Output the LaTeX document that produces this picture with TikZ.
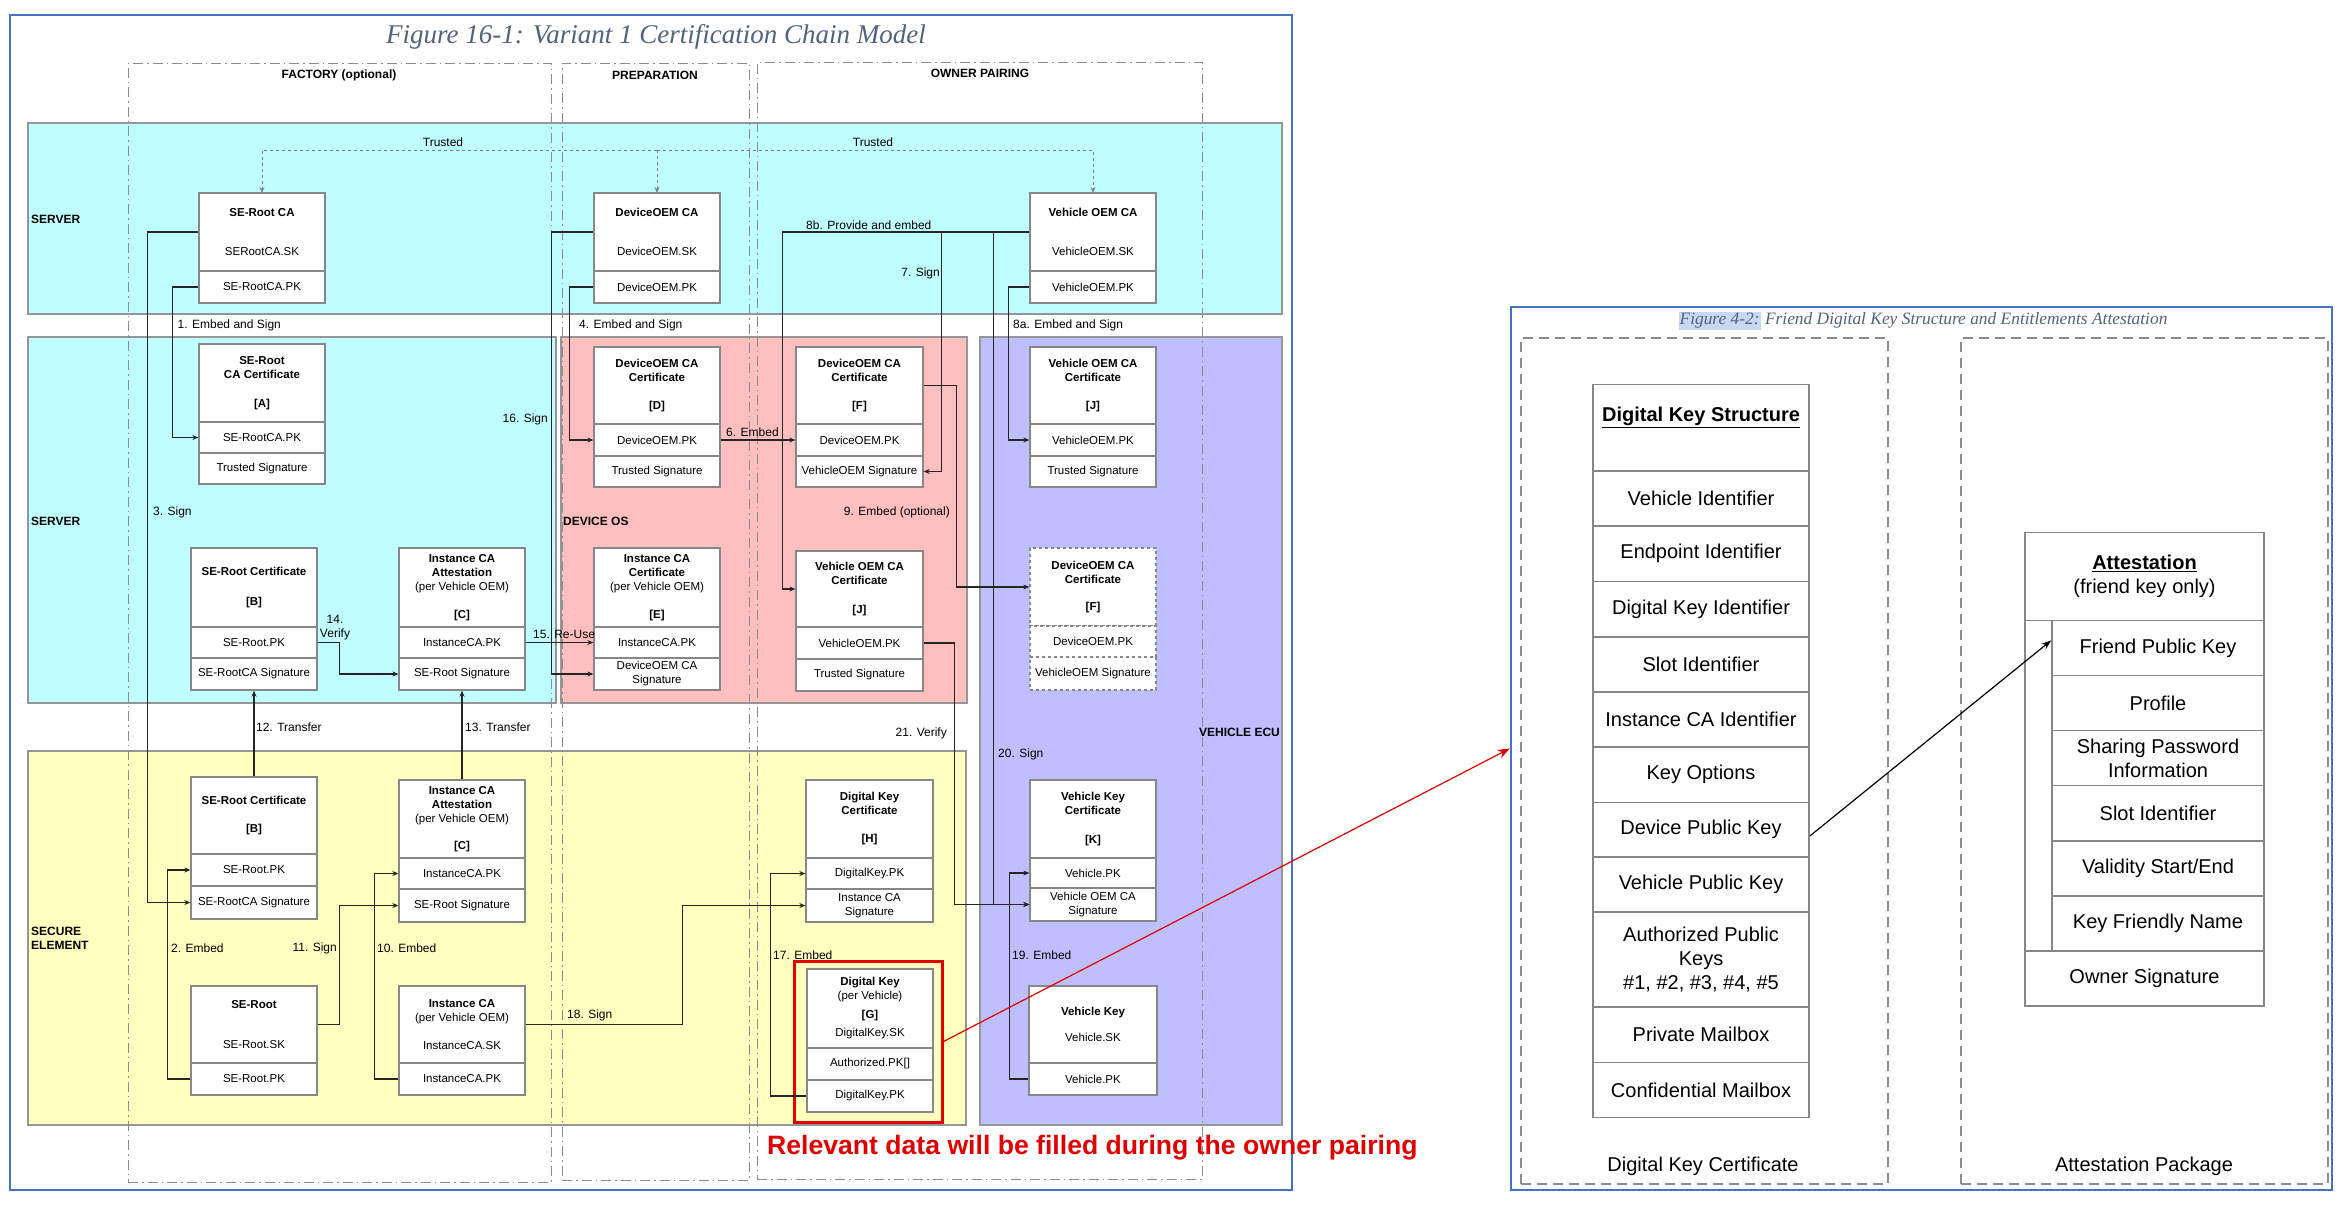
\documentclass[tikz,border=0pt]{standalone}
\usepackage{fontspec}
\setmainfont{Liberation Sans}
\newfontfamily\serifit{Liberation Serif}
\usetikzlibrary{arrows.meta,calc}
\definecolor{lcyan}{RGB}{191,255,255}
\definecolor{lpink}{RGB}{255,191,191}
\definecolor{llav}{RGB}{191,191,255}
\definecolor{lyel}{RGB}{255,255,192}
\definecolor{bordgray}{RGB}{150,150,150}
\definecolor{boxgray}{RGB}{135,135,135}
\definecolor{figblue}{RGB}{68,114,196}
\definecolor{slate}{RGB}{84,98,126}
\definecolor{hlblue}{RGB}{198,217,240}
\definecolor{redc}{RGB}{225,0,0}
\newcommand\cel[7]{\node[#1, minimum width={#4-#3}, minimum height={#6-#5}] (#2) at ({(#3+#4)/2},{(#5+#6)/2}) {#7};}
\begin{document}
\begin{tikzpicture}[x=1pt,y=-1pt,
  lane/.style={draw=bordgray, line width=1.5pt, inner sep=0pt},
  colbox/.style={draw=black!45, line width=1pt, inner sep=0pt, dash pattern=on 10pt off 4pt on 1.5pt off 4pt},
  frame/.style={draw=figblue, line width=2.5pt, inner sep=0pt},
  cell/.style={draw=boxgray, fill=white, line width=1.3pt, inner sep=0pt, align=center, font=\fontsize{11.5}{14}\selectfont},
  dcell/.style={cell, dashed},
  lbl/.style={font=\fontsize{12}{14}\selectfont, inner sep=0pt},
  blbl/.style={font=\fontsize{12}{14}\selectfont\bfseries, inner sep=0pt},
  conn/.style={draw=black!85, line width=1.2pt, -{Stealth[length=6pt,width=5pt]}},
  trust/.style={draw=black!50, line width=1pt, dashed, -{Stealth[length=6pt,width=5pt]}},
  rcell/.style={draw=boxgray, fill=white, line width=1.5pt, inner sep=0pt, align=center, font=\fontsize{20}{24}\selectfont},
  rdash/.style={draw=black!45, line width=1.5pt, inner sep=0pt, dash pattern=on 10pt off 6pt},
  rlbl/.style={font=\fontsize{20}{24}\selectfont, inner sep=0pt},
]
\fill[white] (0,0) rectangle (2350,1216);
\useasboundingbox (0,0) rectangle (2350,1216);

% frames
\cel{frame}{lpanel}{10}{1292}{15}{1190}{}
\cel{frame}{rpanel}{1511}{2332}{307}{1190}{}

% lanes
\cel{lane,fill=lcyan}{laneA}{28}{1282}{123}{314}{}
\cel{lane,fill=lcyan}{laneB}{28}{556}{337}{703}{}
\cel{lane,fill=lpink}{laneC}{561}{967}{337}{703}{}
\cel{lane,fill=llav}{laneD}{980}{1282}{337}{1125}{}
\cel{lane,fill=lyel}{laneE}{28}{966}{751}{1125}{}

% columns
\cel{colbox}{colF}{128}{551}{63}{1182}{}
\cel{colbox}{colP}{562}{749}{63}{1180}{}
\cel{colbox}{colO}{757}{1202}{62}{1179}{}

% titles
\node[font=\serifit\itshape\fontsize{27}{30}\selectfont, text=slate, inner sep=0pt] (t1) at (656,37) {Figure 16-1: Variant 1 Certification Chain Model};
\node[font=\serifit\itshape\fontsize{17.4}{20}\selectfont, text=slate, inner sep=0pt] (t2) at (1923,321) {\setlength{\fboxsep}{1pt}\colorbox{hlblue}{Figure 4-2:} Friend Digital Key Structure and Entitlements Attestation};

\node[blbl] (hF) at (339,75) {FACTORY (optional)};
\node[blbl] (hP) at (655,75) {PREPARATION};
\node[blbl] (hO) at (980,73) {OWNER PAIRING};

\node[blbl, anchor=west] (nS1) at (31,219) {SERVER};
\node[blbl, anchor=west] (nS2) at (31,521) {SERVER};
\node[blbl, anchor=west] (nD) at (563,521) {DEVICE OS};
\node[blbl, anchor=west] (nV) at (1199,732) {VEHICLE ECU};
\node[blbl, anchor=west, align=left] (nSE) at (31,938) {SECURE\\ELEMENT};

% trusted
\coordinate (trc) at (657,150);
\draw[trust] (trc) -| (262,193);
\draw[trust] (trc) -- (657,193);
\draw[trust] (trc) -| (1093,193);
\node[lbl] (tr1) at (443,142) {Trusted};
\node[lbl] (tr2) at (873,142) {Trusted};

% boxes top server
\cel{cell}{srca}{199}{325}{193}{271}{\textbf{SE-Root CA}\\[25.5pt]SERootCA.SK}
\cel{cell}{srca-pk}{199}{325}{271}{303}{SE-RootCA.PK}
\cel{cell}{doca}{594}{720}{193}{271}{\textbf{DeviceOEM CA}\\[25.5pt]DeviceOEM.SK}
\cel{cell}{doca-pk}{594}{720}{271}{303}{DeviceOEM.PK}
\cel{cell}{voca}{1030}{1156}{193}{271}{\textbf{Vehicle OEM CA}\\[25.5pt]VehicleOEM.SK}
\cel{cell}{voca-pk}{1030}{1156}{271}{303}{VehicleOEM.PK}

% row 2
\cel{cell}{certA}{199}{325}{344}{422}{\textbf{SE-Root}\\\textbf{CA Certificate}\\[14.5pt]\textbf{[A]}}
\cel{cell}{certA-pk}{199}{325}{422}{453}{SE-RootCA.PK}
\cel{cell}{certA-sig}{199}{325}{453}{484}{Trusted Signature}
\cel{cell}{certD}{594}{720}{347}{424}{\textbf{DeviceOEM CA}\\\textbf{Certificate}\\[14pt]\textbf{[D]}}
\cel{cell}{certD-pk}{594}{720}{424}{456}{DeviceOEM.PK}
\cel{cell}{certD-sig}{594}{720}{456}{487}{Trusted Signature}
\cel{cell}{certF}{796}{923}{347}{424}{\textbf{DeviceOEM CA}\\\textbf{Certificate}\\[14pt]\textbf{[F]}}
\cel{cell}{certF-pk}{796}{923}{424}{456}{DeviceOEM.PK}
\cel{cell}{certF-sig}{796}{923}{456}{487}{VehicleOEM Signature}
\cel{cell}{certJa}{1030}{1156}{347}{424}{\textbf{Vehicle OEM CA}\\\textbf{Certificate}\\[14pt]\textbf{[J]}}
\cel{cell}{certJa-pk}{1030}{1156}{424}{456}{VehicleOEM.PK}
\cel{cell}{certJa-sig}{1030}{1156}{456}{487}{Trusted Signature}

% row 3
\cel{cell}{certBa}{191}{317}{548}{627}{\textbf{SE-Root Certificate}\\[15.5pt]\textbf{[B]}}
\cel{cell}{certBa-pk}{191}{317}{627}{658}{SE-Root.PK}
\cel{cell}{certBa-sig}{191}{317}{658}{690}{SE-RootCA Signature}
\cel{cell}{certCa}{399}{525}{548}{627}{\textbf{Instance CA}\\\textbf{Attestation}\\(per Vehicle OEM)\\[13.5pt]\textbf{[C]}}
\cel{cell}{certCa-pk}{399}{525}{627}{658}{InstanceCA.PK}
\cel{cell}{certCa-sig}{399}{525}{658}{690}{SE-Root Signature}
\cel{cell}{certE}{594}{720}{548}{627}{\textbf{Instance CA}\\\textbf{Certificate}\\(per Vehicle OEM)\\[13.5pt]\textbf{[E]}}
\cel{cell}{certE-pk}{594}{720}{627}{658}{InstanceCA.PK}
\cel{cell}{certE-sig}{594}{720}{658}{690}{DeviceOEM CA\\Signature}
\cel{cell}{certJb}{796}{923}{551}{627}{\textbf{Vehicle OEM CA}\\\textbf{Certificate}\\[14.5pt]\textbf{[J]}}
\cel{cell}{certJb-pk}{796}{923}{627}{659}{VehicleOEM.PK}
\cel{cell}{certJb-sig}{796}{923}{659}{691}{Trusted Signature}
\cel{dcell}{certFb}{1030}{1156}{548}{626}{\textbf{DeviceOEM CA}\\\textbf{Certificate}\\[13pt]\textbf{[F]}}
\cel{dcell}{certFb-pk}{1030}{1156}{626}{657}{DeviceOEM.PK}
\cel{dcell}{certFb-sig}{1030}{1156}{657}{690}{VehicleOEM Signature}

% row 4
\cel{cell}{certBb}{191}{317}{777}{854}{\textbf{SE-Root Certificate}\\[14.5pt]\textbf{[B]}}
\cel{cell}{certBb-pk}{191}{317}{854}{886}{SE-Root.PK}
\cel{cell}{certBb-sig}{191}{317}{886}{919}{SE-RootCA Signature}
\cel{cell}{certCb}{399}{525}{780}{858}{\textbf{Instance CA}\\\textbf{Attestation}\\(per Vehicle OEM)\\[13.5pt]\textbf{[C]}}
\cel{cell}{certCb-pk}{399}{525}{858}{889}{InstanceCA.PK}
\cel{cell}{certCb-sig}{399}{525}{889}{922}{SE-Root Signature}
\cel{cell}{certH}{806}{933}{780}{858}{\textbf{Digital Key}\\\textbf{Certificate}\\[14pt]\textbf{[H]}}
\cel{cell}{certH-pk}{806}{933}{858}{889}{DigitalKey.PK}
\cel{cell}{certH-sig}{806}{933}{889}{922}{Instance CA\\Signature}
\cel{cell}{certK}{1030}{1156}{780}{858}{\textbf{Vehicle Key}\\\textbf{Certificate}\\[14.5pt]\textbf{[K]}}
\cel{cell}{certK-pk}{1030}{1156}{858}{888}{Vehicle.PK}
\cel{cell}{certK-sig}{1030}{1156}{888}{921}{Vehicle OEM CA\\Signature}

% row 5
\cel{cell}{seroot}{191}{317}{986}{1063}{\textbf{SE-Root}\\[25.5pt]SE-Root.SK}
\cel{cell}{seroot-pk}{191}{317}{1063}{1095}{SE-Root.PK}
\cel{cell}{instca}{399}{525}{986}{1063}{\textbf{Instance CA}\\(per Vehicle OEM)\\[13.5pt]InstanceCA.SK}
\cel{cell}{instca-pk}{399}{525}{1063}{1095}{InstanceCA.PK}
\cel{cell}{dkg}{807}{933}{969}{1048}{\textbf{Digital Key}\\(per Vehicle)\\[4.5pt]\textbf{[G]}\\[4.5pt]DigitalKey.SK}
\cel{cell}{dkg-auth}{807}{933}{1048}{1080}{Authorized.PK[]}
\cel{cell}{dkg-pk}{807}{933}{1080}{1112}{DigitalKey.PK}
\cel{cell}{vkey}{1029}{1157}{986}{1063}{\textbf{Vehicle Key}\\[12.5pt]Vehicle.SK}
\cel{cell}{vkey-pk}{1029}{1157}{1063}{1095}{Vehicle.PK}

\node[draw=redc, line width=3pt, inner sep=0pt, minimum width=148, minimum height=161] (redbox) at (868,1041.5) {};

% connectors
\draw[conn] (srca-pk.west) -- ++(-25.5,0) |- (certA-pk.west);
\draw[conn] (srca.west) -- ++(-51,0) |- (certBb-sig.west);
\draw[conn] (doca.west) -- ++(-42,0) |- (certE-sig.west);
\draw[conn] (doca-pk.west) -- ++(-24,0) |- (certD-pk.west);
\draw[conn] (certD-pk.east) -- (certF-pk.west);
\draw[conn] (voca.west) -- ++(-247,0) |- (certJb.west);
\draw[conn] (voca.west) -- ++(-88,0) |- (certF-sig.east);
\draw[conn] (voca.west) -- ++(-36,0) |- (certK-sig.west);
\draw[conn] (voca-pk.west) -- ++(-21,0) |- (certJa-pk.west);
\draw[conn] (certF.east) -- ++(33,0) |- (certFb.west);
\draw[conn] (certBa-pk.east) -- ++(22,0) |- (certCa-sig.west);
\draw[conn] (certCa-pk.east) -- (certE-pk.west);
\draw[conn] (certBb.north) -- (certBa-sig.south);
\draw[conn] (certCb.north) -- (certCa-sig.south);
\draw[conn] (seroot-pk.west) -- ++(-23,0) |- (certBb-pk.west);
\draw[conn] (seroot.east) -- ++(22,0) |- (certCb-sig.west);
\draw[conn] (instca-pk.west) -- ++(-24,0) |- (certCb-pk.west);
\draw[conn] (instca.east) -- ++(157,0) |- (certH-sig.west);
\draw[conn] (dkg-pk.west) -- ++(-36,0) |- (certH-pk.west);
\draw[conn] (vkey-pk.west) -- ++(-19,0) |- (certK-pk.west);
\draw[conn] (certJb-pk.east) -- ++(31,0) |- (certK-sig.west);

% connector labels
\node[lbl, anchor=west] (l1) at (177.5,325) {1. Embed and Sign};
\node[lbl, anchor=west] (l3) at (153,512) {3. Sign};
\node[lbl, anchor=east] (l16) at (548,419) {16. Sign};
\node[lbl, anchor=west] (l4) at (579,325) {4. Embed and Sign};
\node[lbl, anchor=west] (l6) at (726,432) {6. Embed};
\node[lbl, anchor=west] (l8b) at (806,225) {8b. Provide and embed};
\node[lbl, anchor=east] (l7) at (940,273) {7. Sign};
\node[lbl, anchor=west] (l20) at (998,754) {20. Sign};
\node[lbl, anchor=west] (l8a) at (1013,325) {8a. Embed and Sign};
\node[lbl, anchor=east] (l9) at (950,512) {9. Embed (optional)};
\node[lbl, align=center] (l14) at (335,628) {14.\\Verify};
\node[lbl, anchor=west] (l15) at (533,634) {15. Re-Use};
\node[lbl, anchor=west] (l12) at (256,727) {12. Transfer};
\node[lbl, anchor=west] (l13) at (465,727) {13. Transfer};
\node[lbl, anchor=west] (l2) at (171,948) {2. Embed};
\node[lbl, anchor=east] (l11) at (337,948) {11. Sign};
\node[lbl, anchor=west] (l10) at (377,948) {10. Embed};
\node[lbl, anchor=west] (l18) at (567,1015) {18. Sign};
\node[lbl, anchor=west] (l17) at (773,955) {17. Embed};
\node[lbl, anchor=west] (l19) at (1012,955) {19. Embed};
\node[lbl, anchor=east] (l21) at (947,733) {21. Verify};

\node[font=\bfseries\fontsize{26.6}{30}\selectfont, text=redc, anchor=west, inner sep=0pt] (redtxt) at (767,1148) {Relevant data will be filled during the owner pairing};

% right panel
\cel{rdash}{rdA}{1521}{1888}{338}{1184}{}
\cel{rdash}{rdB}{1961}{2328}{338}{1184}{}
\node[rlbl] (rdAl) at (1703,1166) {Digital Key Certificate};
\node[rlbl] (rdBl) at (2144,1166) {Attestation Package};

\cel{rcell}{dks}{1593}{1809}{384.4}{471.1}{}
\node[font=\fontsize{20}{24}\selectfont\bfseries, inner sep=0pt] (dkst) at (1701,417) {\underline{Digital Key Structure}};
\cel{rcell}{dk1}{1593}{1809}{471.1}{526.2}{Vehicle Identifier}
\cel{rcell}{dk2}{1593}{1809}{526.2}{581.3}{Endpoint Identifier}
\cel{rcell}{dk3}{1593}{1809}{581.3}{637.0}{Digital Key Identifier}
\cel{rcell}{dk4}{1593}{1809}{637.0}{692.1}{Slot Identifier}
\cel{rcell}{dk5}{1593}{1809}{692.1}{747.2}{Instance CA Identifier}
\cel{rcell}{dk6}{1593}{1809}{747.2}{802.3}{Key Options}
\cel{rcell}{devpk}{1593}{1809}{802.3}{856.8}{Device Public Key}
\cel{rcell}{dk8}{1593}{1809}{856.8}{911.9}{Vehicle Public Key}
\cel{rcell}{dk9}{1593}{1809}{911.9}{1007.2}{Authorized Public\\Keys\\\#1, \#2, \#3, \#4, \#5}
\cel{rcell}{dk10}{1593}{1809}{1007.2}{1062.4}{Private Mailbox}
\cel{rcell}{dk11}{1593}{1809}{1062.4}{1117.4}{Confidential Mailbox}

\cel{rcell}{att}{2025}{2264}{532.5}{620.3}{\textbf{\underline{Attestation}}\\(friend key only)}
\cel{rcell}{attstrip}{2025}{2052}{620.3}{951.0}{}
\cel{rcell}{fpk}{2052}{2264}{620.3}{675.4}{Friend Public Key}
\cel{rcell}{at2}{2052}{2264}{675.4}{730.5}{Profile}
\cel{rcell}{at3}{2052}{2264}{730.5}{785.6}{Sharing Password\\Information}
\cel{rcell}{at4}{2052}{2264}{785.6}{840.8}{Slot Identifier}
\cel{rcell}{at5}{2052}{2264}{840.8}{895.9}{Validity Start/End}
\cel{rcell}{at6}{2052}{2264}{895.9}{951.0}{Key Friendly Name}
\cel{rcell}{at7}{2025}{2264}{951.0}{1006.1}{Owner Signature}

\draw[line width=1.2pt, -{Stealth[length=10pt,width=7pt]}] ([yshift=-6.5pt]devpk.east) -- ([yshift=7.5pt]fpk.west);
\draw[draw=redc, line width=1.2pt, -{Stealth[length=12pt,width=9pt]}] (redbox.east) -- (rpanel.west);
\end{tikzpicture}
\end{document}
